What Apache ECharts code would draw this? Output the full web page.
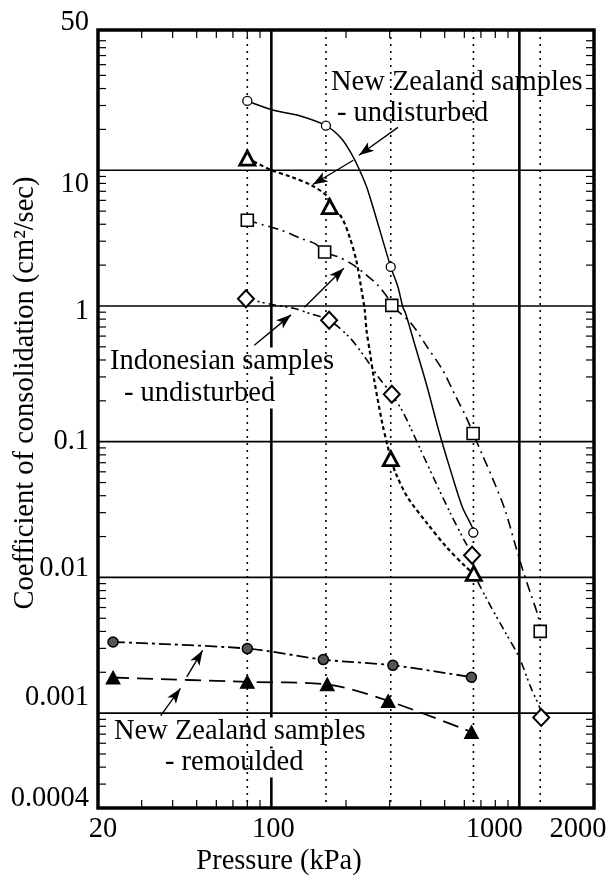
<!DOCTYPE html>
<html><head><meta charset="utf-8">
<script src="https://cdn.jsdelivr.net/npm/echarts@6/dist/echarts.min.js"></script>
<style>html,body{margin:0;padding:0;background:#fff}#c{width:612px;height:877px}</style>
</head><body><div id="c"></div>
<script>
// ---------- data ----------
const pressureLines = [80, 166, 303, 653, 1214];          // dotted test-pressure lines (kPa)
const xGridValues = [100, 1000];
const yGridValues = [0.001, 0.01, 0.1, 1, 10];
const xTickValues = [20, 100, 1000, 2000];
const xTickLabels = ['20', '100', '1000', '2000'];
const yTickValues = [0.0002, 0.001, 0.01, 0.1, 1, 10, 108];
const yTickLabels = ['0.0004', '0.001', '0.01', '0.1', '1', '10', '50'];
const xMinorTicks = [30, 40, 50, 60, 70, 80, 90, 200, 300, 400, 500, 600, 700, 800, 900];
const yMinorMantissas = [2, 3, 4, 5, 6, 7, 8, 9];
const yMinorDecades = [0.0001, 0.001, 0.01, 0.1, 1, 10];

// New Zealand undisturbed (circles, solid curve)
const nzCircleP  = [80, 166, 303, 652];
const nzCircleCv = [32.4, 21.3, 1.94, 0.0214];
const nzCircleCurve = [[80,32.4],[102,27.7],[128,25.4],[166,21.3],[192,17.1],[210,13.3],[227,10],[245,7.1],[303,1.94],[324,1.38],[339,0.98],[348,0.88],[381,0.50],[425,0.253],[473,0.121],[528,0.0615],[589,0.033],[645,0.0235],[652,0.0214]];

// New Zealand undisturbed (triangles, short-dash curve)
const nzTriP  = [80, 172, 303, 655];
const nzTriCv = [12.3, 5.4, 0.075, 0.0107];
const nzTriCurve = [[80,12.3],[99,10.1],[121,8.9],[145,7.75],[167,6.5],[174,5.4],[192,4.5],[207,3.2],[220,2.17],[230,1.38],[238,0.93],[242,0.66],[250,0.45],[260,0.283],[280,0.137],[295,0.0915],[303,0.075],[318,0.058],[354,0.039],[425,0.025],[509,0.0167],[610,0.0119],[655,0.0107]];

// Indonesian undisturbed (squares, dash-dot curve)
const indSqP  = [80, 164, 306, 651, 1214];
const indSqCv = [4.28, 2.5, 1.01, 0.115, 0.0040];
const indSqCurve = [[80,4.28],[91,4.0],[110,3.61],[132,3.14],[150,2.88],[164,2.5],[186,2.30],[210,2.05],[238,1.73],[269,1.42],[300,1.10],[306,1.01],[367,0.741],[425,0.499],[491,0.336],[547,0.226],[610,0.152],[651,0.115],[706,0.0817],[786,0.0519],[877,0.0312],[960,0.0177],[1033,0.0113],[1110,0.0076],[1193,0.0051],[1214,0.0040]];

// Indonesian undisturbed (diamonds, dash-dot-dot curve)
const indDiaP  = [79, 171, 306, 645, 1225];
const indDiaCv = [1.13, 0.785, 0.2235, 0.01455, 0.00093];
const indDiaCurve = [[79,1.13],[99.5,1.03],[124,0.957],[143,0.879],[171,0.785],[206,0.591],[238,0.421],[270,0.30],[306,0.2235],[342,0.161],[395,0.0914],[456,0.0519],[528,0.0295],[599,0.0188],[645,0.01455],[659,0.0107],[744,0.00678],[868,0.00408],[997,0.00259],[1110,0.00156],[1218,0.00105],[1225,0.00093]];

// New Zealand remoulded
const remCircP  = [23, 80, 162, 309, 641];
const remCircCv = [0.00334, 0.00299, 0.00248, 0.00225, 0.00184];
const remTriP   = [23, 80, 168, 296, 641];
const remTriCv  = [0.00183, 0.0017, 0.00163, 0.00123, 0.000726];

// annotation arrows (data coordinates: from -> to)
const arrowFrom = [[324,20.7],[214,11.85],[85.4,0.513],[136,0.98],[35.8,0.00096],[45.6,0.00185]];
const arrowTo   = [[225.6,12.9],[147,7.85],[120,0.86],[196,1.9],[43,0.00152],[52.8,0.0029]];

// ---------- styling / layout ----------
const FONT = 'Liberation Serif';
const FS = 28.5;
const TICK = 8;
const zip = (a, b) => a.map((v, i) => [v, b[i]]);
const yMinorTicks = [];
yMinorDecades.forEach(d => yMinorMantissas.forEach(m => { const v = m * d; if (v > 0.00021 && v < 108) yMinorTicks.push(v); }));

const xShift = [5, 2, -25, -16];
const yShift = [-9, -16, -9, 0, 6, 14, -7];
const xRich = {}, yRich = {};
xShift.forEach((s, i) => { xRich['x' + i] = {fontFamily: FONT, fontSize: FS, color: '#000', padding: s > 0 ? [0,0,0,2*s] : [0,-2*s,0,0]}; });
yShift.forEach((s, i) => { yRich['y' + i] = {fontFamily: FONT, fontSize: FS, color: '#000', padding: s > 0 ? [2*s,0,0,0] : [0,0,-2*s,0]}; });
function findIdx(vals, v) {
  for (let i = 0; i < vals.length; i++) if (Math.abs(Math.log10(v) - Math.log10(vals[i])) < 0.01) return i;
  return -1;
}
const xFmt = v => { const i = findIdx(xTickValues, v); return i < 0 ? '' : '{x' + i + '|' + xTickLabels[i] + '}'; };
const yFmt = v => { const i = findIdx(yTickValues, v); return i < 0 ? '' : '{y' + i + '|' + yTickLabels[i] + '}'; };

function vLines(values, style, z) {
  return {type: 'custom', z: z, silent: true, animation: false, clip: false,
    data: values.map(v => [v, 1]),
    renderItem: (params, api) => {
      const cs = params.coordSys; const x = api.coord([api.value(0), 1])[0];
      return {type: 'line', shape: {x1: x, y1: cs.y, x2: x, y2: cs.y + cs.height}, style: style};
    }};
}
function hLines(values, style, z) {
  return {type: 'custom', z: z, silent: true, animation: false, clip: false,
    data: values.map(v => [100, v]),
    renderItem: (params, api) => {
      const cs = params.coordSys; const y = api.coord([100, api.value(1)])[1];
      return {type: 'line', shape: {x1: cs.x, y1: y, x2: cs.x + cs.width, y2: y}, style: style};
    }};
}
const tickStyle = {stroke: '#000', lineWidth: 1.2};
const xMinorSeries = {type: 'custom', z: 1, silent: true, animation: false, clip: false,
  data: xMinorTicks.map(v => [v, 1]),
  renderItem: (params, api) => {
    const cs = params.coordSys; const x = api.coord([api.value(0), 1])[0];
    return {type: 'group', children: [
      {type: 'line', shape: {x1: x, y1: cs.y, x2: x, y2: cs.y + TICK}, style: tickStyle},
      {type: 'line', shape: {x1: x, y1: cs.y + cs.height, x2: x, y2: cs.y + cs.height - TICK}, style: tickStyle}]};
  }};
const yMinorSeries = {type: 'custom', z: 1, silent: true, animation: false, clip: false,
  data: yMinorTicks.map(v => [100, v]),
  renderItem: (params, api) => {
    const cs = params.coordSys; const y = api.coord([100, api.value(1)])[1];
    return {type: 'group', children: [
      {type: 'line', shape: {x1: cs.x, y1: y, x2: cs.x + TICK, y2: y}, style: tickStyle},
      {type: 'line', shape: {x1: cs.x + cs.width, y1: y, x2: cs.x + cs.width - TICK, y2: y}, style: tickStyle}]};
  }};

function curve(data, lineType, width, smooth, z) {
  return {type: 'line', data: data, symbol: 'none', smooth: smooth, z: z, silent: true, animation: false,
    lineStyle: {color: '#000', width: width, type: lineType}};
}
function markers(data, symbol, size, fill, bw, z) {
  return {type: 'scatter', data: data, symbol: symbol, symbolSize: size, z: z, silent: true, animation: false,
    itemStyle: {color: fill, borderColor: '#000', borderWidth: bw, opacity: 1}};
}

const arrowSeries = {type: 'line', data: [], z: 6, silent: true, animation: false,
  markLine: {silent: true, animation: false, symbol: ['none', 'arrow'], symbolSize: [0, 13],
    label: {show: false}, emphasis: {disabled: true},
    lineStyle: {color: '#000', width: 1.4, type: 'solid'},
    data: arrowFrom.map((f, i) => [{coord: f, symbol: 'none'}, {coord: arrowTo[i], symbol: 'arrow', symbolSize: [8, 15]}])}};

const textItems = [
  {t: 'New Zealand samples', x: 331, y: 83, bg: false},
  {t: '- undisturbed', x: 337, y: 114, bg: false},
  {t: 'Indonesian samples', x: 110, y: 362, bg: true},
  {t: '- undisturbed', x: 124, y: 394, bg: true},
  {t: 'New Zealand samples', x: 114, y: 732, bg: true},
  {t: '- remoulded', x: 165, y: 763, bg: true}
];

const chart = echarts.init(document.getElementById('c'), null, {renderer: 'canvas'});
chart.setOption({
  backgroundColor: '#fff',
  animation: false,
  grid: {left: 98, right: 18, top: 30, bottom: 69, show: true, borderColor: '#000', borderWidth: 3.5,
         backgroundColor: 'transparent', containLabel: false, outerBoundsMode: 'none'},
  xAxis: {type: 'log', logBase: 10, min: 20, max: 2000,
    axisLine: {show: false}, axisTick: {show: false}, splitLine: {show: false}, minorTick: {show: false},
    axisLabel: {showMinLabel: true, showMaxLabel: true, margin: 7, formatter: xFmt, rich: xRich,
                fontFamily: FONT, fontSize: FS, color: '#000'},
    name: 'Pressure (kPa)', nameLocation: 'middle', nameGap: 39, nameMoveOverlap: false,
    nameTextStyle: {fontFamily: FONT, fontSize: FS, color: '#000', padding: [0, 134, 0, 0]}},
  yAxis: {type: 'log', logBase: 10, min: 0.0002, max: 108,
    axisLine: {show: false}, axisTick: {show: false}, splitLine: {show: false}, minorTick: {show: false},
    axisLabel: {showMinLabel: true, showMaxLabel: true, margin: 9, formatter: yFmt, rich: yRich,
                fontFamily: FONT, fontSize: FS, color: '#000'},
    name: 'Coefficient of consolidation (cm\u00B2/sec)', nameLocation: 'middle', nameGap: 58, nameMoveOverlap: false,
    nameTextStyle: {fontFamily: FONT, fontSize: FS, color: '#000', padding: [0, 0, 0, 52]}},
  graphic: {elements: textItems.map(it => ({type: 'text', x: it.x, y: it.y, z: 1, silent: true,
    style: {text: it.t, font: FS + 'px "' + FONT + '"', fill: '#000', align: 'left', verticalAlign: 'middle',
            backgroundColor: it.bg ? '#fff' : 'transparent'}}))},
  series: [
    hLines(yGridValues, {stroke: '#000', lineWidth: 1.7}, 0),
    vLines(xGridValues, {stroke: '#000', lineWidth: 2.6}, 0),
    vLines(pressureLines, {stroke: '#000', lineWidth: 1.6, lineDash: [2, 5]}, 2),
    xMinorSeries, yMinorSeries,
    curve(nzCircleCurve, 'solid', 1.5, 0.3, 3),
    curve(nzTriCurve, [4, 3], 2.2, 0.3, 3),
    curve(indSqCurve, [10, 5, 2, 5], 1.6, 0.3, 3),
    curve(indDiaCurve, [8, 4, 2, 3, 2, 4], 1.6, 0.3, 3),
    curve(zip(remCircP, remCircCv), [12, 4, 3, 4], 1.8, 0.3, 3),
    curve(zip(remTriP, remTriCv), [16, 8], 1.8, 0.3, 3),
    markers(zip(nzCircleP, nzCircleCv), 'circle', 9, '#fff', 1.3, 5),
    markers(zip(nzTriP, nzTriCv), 'triangle', [15, 14], '#fff', 2.8, 5),
    markers(zip(indSqP, indSqCv), 'rect', 12, '#fff', 1.6, 5),
    markers(zip(indDiaP, indDiaCv), 'diamond', [16, 17], '#fff', 2, 5),
    markers(zip(remCircP, remCircCv), 'circle', 10, '#555', 1.5, 5),
    markers(zip(remTriP, remTriCv), 'triangle', [14, 13], '#000', 1, 5),
    arrowSeries
  ]
});
</script></body></html>
